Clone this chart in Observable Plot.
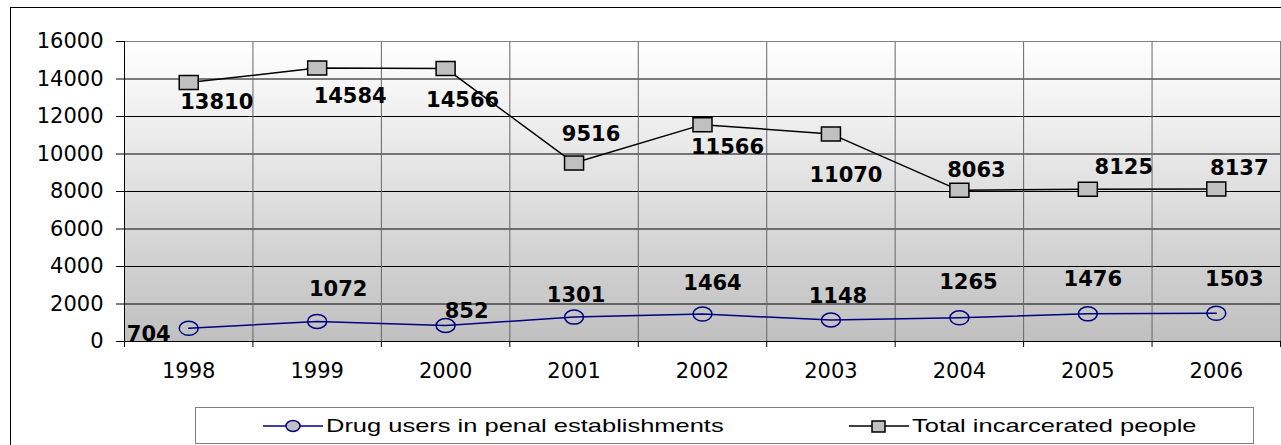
<!DOCTYPE html>
<html><head><meta charset="utf-8">
<script src="https://cdn.jsdelivr.net/npm/d3@7"></script>
<script src="https://cdn.jsdelivr.net/npm/@observablehq/plot@0.6"></script>
<style>
html,body{margin:0;padding:0;background:#fff;}
#wrap{position:relative;width:1281px;height:445px;overflow:hidden;}
#frame{position:absolute;left:10px;top:7px;width:1400px;height:500px;border-left:1px solid #000;border-top:1px solid #000;}
#chart{position:absolute;left:0;top:0;}
#legend{position:absolute;left:195px;top:407px;width:1057px;height:35px;border:1px solid #808080;background:#fff;font-family:"Liberation Sans",Arial,sans-serif;font-size:19px;color:#000;}
.item{position:absolute;top:0;height:35px;display:flex;align-items:center;}
.item svg{display:block;}
.item span{display:inline-block;transform:scaleX(1.34);transform-origin:left center;white-space:nowrap;margin-left:3px;}
</style></head><body>
<div id="wrap"><div id="frame"></div><div id="chart"></div><div id="legend"></div></div>
<script>
const years = [1998, 1999, 2000, 2001, 2002, 2003, 2004, 2005, 2006];
const drugUsers = [704, 1072, 852, 1301, 1464, 1148, 1265, 1476, 1503];
const totalIncarcerated = [13810, 14584, 14566, 9516, 11566, 11070, 8063, 8125, 8137];
const yTicks = [0, 2000, 4000, 6000, 8000, 10000, 12000, 14000, 16000];
const seriesNames = ["Drug users in penal establishments", "Total incarcerated people"];
// label placement offsets in pixels (dx, dy)
const totalLabelOffsets = [[28,20],[33,28],[17,32],[17,-29],[25,23],[15,41],[17,-20],[36,-22],[23,-21]];
const drugLabelOffsets = [[-40,6],[21,-32],[21,-14],[2,-22],[10,-31],[7,-24],[9,-36],[5,-35],[18,-34]];

const data = years.map((year, i) => ({year, drug: drugUsers[i], total: totalIncarcerated[i]}));
const boundaries = d3.range(years.length + 1).map(i => years[0] - 0.5 + i);

const K = 0.5523;
const ellipseSymbol = {draw(ctx) {
  const rx = 9.5, ry = 7;
  ctx.moveTo(rx, 0);
  ctx.bezierCurveTo(rx, ry*K, rx*K, ry, 0, ry);
  ctx.bezierCurveTo(-rx*K, ry, -rx, ry*K, -rx, 0);
  ctx.bezierCurveTo(-rx, -ry*K, -rx*K, -ry, 0, -ry);
  ctx.bezierCurveTo(rx*K, -ry, rx, -ry*K, rx, 0);
  ctx.closePath();
}};
const rectSymbol = {draw(ctx) { ctx.rect(-9.5, -7, 19, 14); }};

const background = (index, scales, values, dims) => {
  const g = d3.create("svg:g");
  const grad = g.append("defs").append("linearGradient").attr("id", "bgGrad")
    .attr("x1", 0).attr("y1", 0).attr("x2", 0).attr("y2", 1);
  grad.append("stop").attr("offset", "0%").attr("stop-color", "#ffffff");
  grad.append("stop").attr("offset", "100%").attr("stop-color", "#c0c0c0");
  g.append("rect").attr("x", dims.marginLeft).attr("y", dims.marginTop)
    .attr("width", dims.width - dims.marginLeft - dims.marginRight)
    .attr("height", dims.height - dims.marginTop - dims.marginBottom)
    .attr("fill", "url(#bgGrad)");
  return g.node();
};

const labelFont = {fontWeight: "bold", fontSize: 21, fill: "black", fontFamily: "DejaVu Sans"};

const chart = Plot.plot({
  width: 1281, height: 400,
  marginTop: 41, marginBottom: 59, marginLeft: 124, marginRight: 1,
  style: {fontFamily: "DejaVu Sans", fontSize: "21px", color: "black", background: "transparent", overflow: "visible"},
  x: {domain: [years[0] - 0.5, years[years.length - 1] + 0.5], axis: null},
  y: {domain: [yTicks[0], yTicks[yTicks.length - 1]], axis: null},
  marks: [
    background,
    Plot.gridY(yTicks.slice(1, -1), {stroke: "black", strokeOpacity: 1, strokeWidth: 1}),
    Plot.gridX(boundaries.slice(1, -1), {stroke: "#666", strokeOpacity: 1, strokeWidth: 1}),
    Plot.frame({stroke: "#808080"}),
    Plot.ruleY([yTicks[0]], {stroke: "black"}),
    Plot.ruleX([boundaries[0]], {stroke: "black"}),
    Plot.axisY(yTicks, {tickSize: 8, tickPadding: 13, tickFormat: d => String(d), label: null, fontSize: 21}),
    Plot.axisX(boundaries, {tickSize: 6, tickFormat: () => "", label: null}),
    Plot.axisX(years, {tickSize: 0, tickPadding: 22, tickFormat: d => String(d), label: null, fontSize: 21}),
    Plot.line(data, {x: "year", y: "total", stroke: "black", strokeWidth: 1.5}),
    Plot.line(data, {x: "year", y: "drug", stroke: "#000080", strokeWidth: 1.5}),
    Plot.dot(data, {x: "year", y: "total", symbol: rectSymbol, fill: "#c0c0c0", stroke: "black", strokeWidth: 1.5}),
    Plot.dot(data, {x: "year", y: "drug", symbol: ellipseSymbol, fill: "none", stroke: "#000080", strokeWidth: 1.5}),
    ...data.map((d, i) => Plot.text([d], {x: "year", y: "total", text: d => String(d.total),
      dx: totalLabelOffsets[i][0], dy: totalLabelOffsets[i][1], ...labelFont})),
    ...data.map((d, i) => Plot.text([d], {x: "year", y: "drug", text: d => String(d.drug),
      dx: drugLabelOffsets[i][0], dy: drugLabelOffsets[i][1], ...labelFont}))
  ]
});
document.getElementById("chart").appendChild(chart);

// legend
const legend = d3.select("#legend");
const items = [
  {name: seriesNames[0], left: 67, color: "#000080", shape: "ellipse"},
  {name: seriesNames[1], left: 653, color: "black", shape: "rect"}
];
items.forEach(it => {
  const div = legend.append("div").attr("class", "item").style("left", it.left + "px");
  const s = div.append("svg").attr("width", 60).attr("height", 20);
  s.append("line").attr("x1", 0).attr("x2", 60).attr("y1", 10).attr("y2", 10).attr("stroke", it.color).attr("stroke-width", 1.5);
  if (it.shape === "ellipse") {
    s.append("ellipse").attr("cx", 30).attr("cy", 10).attr("rx", 7).attr("ry", 5.5).attr("fill", "#c0c0c0").attr("stroke", it.color).attr("stroke-width", 1.5);
  } else {
    s.append("rect").attr("x", 23).attr("y", 5).attr("width", 13).attr("height", 11).attr("fill", "#c0c0c0").attr("stroke", it.color).attr("stroke-width", 1.5);
  }
  div.append("span").text(it.name);
});
</script>
</body></html>
